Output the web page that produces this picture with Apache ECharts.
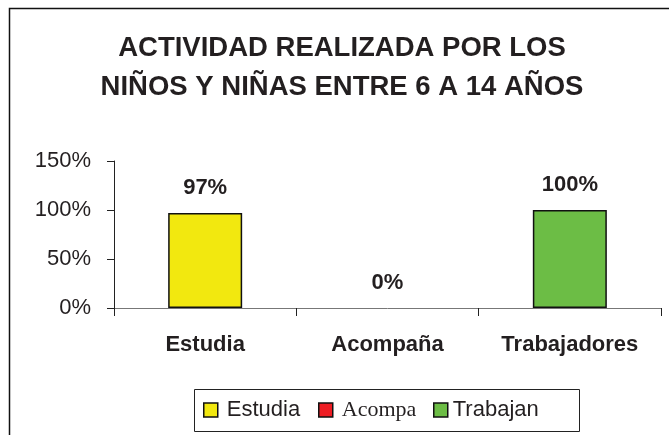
<!DOCTYPE html>
<html><head><meta charset="utf-8">
<script src="https://cdn.jsdelivr.net/npm/echarts@6/dist/echarts.min.js"></script>
<style>html,body{margin:0;padding:0;background:#fff}#c{width:669px;height:435px}</style>
</head><body><div id="c"></div>
<script>
var titleText = 'ACTIVIDAD REALIZADA POR LOS\nNIÑOS Y NIÑAS ENTRE 6 A 14 AÑOS';
var categories = ['Estudia', 'Acompaña', 'Trabajadores'];
var legendNames = ['Estudia', 'Acompa', 'Trabajan'];
var values = [97, 0, 100];
var colors = ['#F2E80F', '#EE1D24', '#6CBD45'];
var yTicks = [0, 50, 100, 150];

var sans = 'Liberation Sans, Arial';
var chart = echarts.init(document.getElementById('c'));
var series = legendNames.map(function (n, i) {
  var d = categories.map(function (c, j) {
    if (j !== i) return '-';
    return values[i] === 0 ? { value: values[i], itemStyle: { borderWidth: 0 } } : values[i];
  });
  return {
    name: n, type: 'bar', data: d, barWidth: 74, barGap: '-100%',
    itemStyle: { color: colors[i], borderColor: '#111', borderWidth: 1.5 },
    label: { show: true, position: 'top', distance: 14, formatter: '{c}%',
      fontFamily: sans, fontWeight: 'bold', fontSize: 22, color: '#231F20' }
  };
});
var legendLefts = [203, 318, 433];
var legendPads = [[0, 0, 0, 4], [0, 0, 0, 4], [0, 0, 0, 0]];
var legends = legendNames.map(function (n, i) {
  return {
    left: legendLefts[i], top: 399, itemWidth: 14, itemHeight: 14, icon: 'rect', padding: 0,
    itemStyle: { borderColor: '#111', borderWidth: 1.5 },
    data: [{ name: n,
      textStyle: { fontFamily: i === 1 ? 'Liberation Serif, Times New Roman' : sans,
      fontSize: 22, color: '#231F20', padding: legendPads[i] } }]
  };
});
chart.setOption({
  animation: false,
  title: { text: titleText, left: 337, textAlign: 'center', top: 24,
    textStyle: { fontFamily: sans, fontWeight: 'bold', fontSize: 27.5, lineHeight: 39, color: '#231F20' } },
  grid: { left: 114, right: 8, top: 161, bottom: 127 },
  legend: legends,
  xAxis: { type: 'category', data: categories,
    axisLine: { lineStyle: { color: '#777', width: 1 } },
    axisTick: { show: true, length: 8, lineStyle: { color: '#222' } },
    axisLabel: { margin: 26, fontFamily: sans, fontWeight: 'bold', fontSize: 22, color: '#231F20' } },
  yAxis: { type: 'value', min: yTicks[0], max: yTicks[yTicks.length - 1], interval: 50,
    splitLine: { show: false },
    axisLine: { show: true, lineStyle: { color: '#222', width: 1 } },
    axisTick: { show: true, length: 7, lineStyle: { color: '#222' } },
    axisLabel: { margin: 23, formatter: '{value}%', fontFamily: sans, fontSize: 22, color: '#231F20' } },
  graphic: [
    { type: 'rect', shape: { x: 9.5, y: 8.5, width: 700, height: 500 }, style: { fill: 'none', stroke: '#111', lineWidth: 1.5 }, silent: true },
    { type: 'rect', shape: { x: 194.5, y: 389.5, width: 385, height: 42 }, style: { fill: 'none', stroke: '#222', lineWidth: 1 }, silent: true }
  ],
  series: series
});
</script></body></html>
